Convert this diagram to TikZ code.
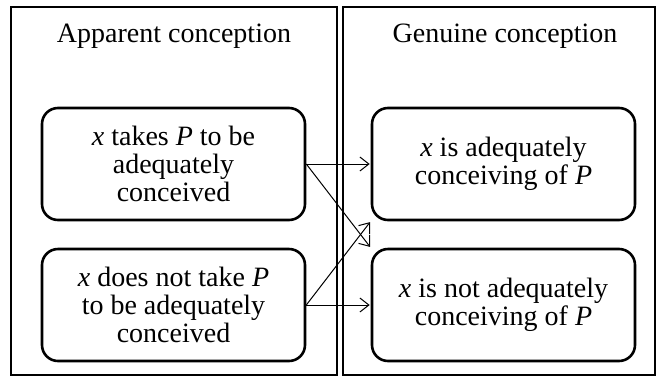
\documentclass[tikz,border=0pt]{standalone}
\usepackage{fontspec}
\setmainfont{Liberation Serif}
\usetikzlibrary{arrows.meta}
\begin{document}
\begin{tikzpicture}[x=1pt, y=-1pt, font=\fontsize{28}{28}\selectfont, panel/.style={draw, line width=2.6pt, minimum height=368pt}, title/.style={anchor=base}, box/.style={draw, line width=2.6pt, rounded corners=16pt, minimum width=263pt, minimum height=112pt, align=center}, link/.style={-{Straight Barb[length=9pt, width=14pt]}, line width=1pt, shorten >=1pt}]
	\useasboundingbox (0,0) rectangle (658,381);
	\node[panel, minimum width=326pt] (A) at (174,191) {};
	\node[panel, minimum width=312pt] (G) at (499,191) {};
	\node[title] (AC) at (174,42) {Apparent conception};
	\node[title] (GC) at (505,42) {Genuine conception};
	\node[box] (AT) at (173.5,164) {\textit{x} takes \textit{P} to be\\adequately\\conceived};
	\node[box] (AN) at (173.5,305) {\textit{x} does not take \textit{P}\\to be adequately\\conceived};
	\node[box] (GT) at (503.5,164) {\textit{x} is adequately\\conceiving of \textit{P}};
	\node[box] (GN) at (503.5,305) {\textit{x} is not adequately\\conceiving of \textit{P}};
	\draw[link] (AT.east) -- (GT.west);
	\draw[link] (AT.east) -- (GN.north west);
	\draw[link] (AN.east) -- (GT.south west);
	\draw[link] (AN.east) -- (GN.west);
\end{tikzpicture}
\end{document}
